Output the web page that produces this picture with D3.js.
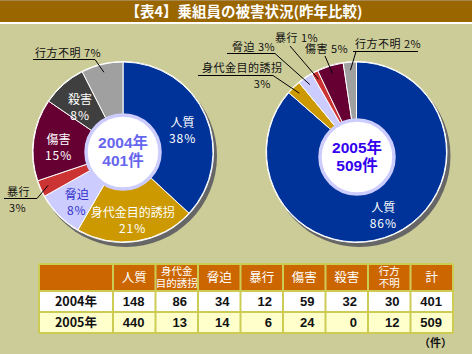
<!DOCTYPE html>
<html><head><meta charset="utf-8">
<script src="https://cdn.jsdelivr.net/npm/d3@7/dist/d3.min.js"></script>
<style>
html,body{margin:0;padding:0;background:#CCCC99;}
svg{display:block;font-family:"Noto Sans CJK JP","Noto Sans",sans-serif;}
</style></head><body>
<svg id="c" width="472" height="354"></svg>
<script>
// ---- data ----
const categories = ["人質","身代金目的誘拐","脅迫","暴行","傷害","殺害","行方不明"];
const values2004 = [148, 86, 34, 12, 59, 32, 30];
const values2005 = [440, 13, 14, 6, 24, 0, 12];
const pct2004 = [38, 21, 8, 3, 15, 8, 7];
const pct2005 = [86, 3, 3, 1, 5, 0, 2];
const years = ["2004年","2005年"];
const totals = [401, 509];
const tableHeaders = [["人質"],["身代金","目的誘拐"],["脅迫"],["暴行"],["傷害"],["殺害"],["行方","不明"],["計"]];
const colors = ["#003399","#CC9900","#CCCCFF","#CC3333","#660033","#3F3F3F","#A0A0A0"];

const LAT = "'Liberation Sans','Noto Sans CJK JP',sans-serif";
const svg = d3.select("#c");
svg.append("rect").attr("width",472).attr("height",354).attr("fill","#CCCC99");
// title bar
svg.append("rect").attr("x",0).attr("y",0).attr("width",472).attr("height",22).attr("fill","#996600");
svg.append("rect").attr("x",0).attr("y",0).attr("width",472).attr("height",1).attr("fill","#A8884E");
svg.append("rect").attr("x",0).attr("y",22).attr("width",472).attr("height",2).attr("fill","#FFFFFF");
svg.append("text").attr("x",244).attr("y",17).attr("text-anchor","middle")
  .attr("fill","#fff").attr("font-size",14.5).attr("font-weight","bold")
  .text("【表4】乗組員の被害状況(昨年比較)");

const R = 90;
const pie = d3.pie().sort(null).value(d=>d);
const arc = d3.arc().innerRadius(0).outerRadius(R);
const labelArc = d3.arc().innerRadius(65).outerRadius(65);
const leaderArc = d3.arc().innerRadius(82).outerRadius(82);

const pies = [
  {cx:123, cy:152, vals:values2004, pct:pct2004, inner:[0,0], centerColor:"#6666EE",
   inside:[0,1,2,4,5], insideColor:[ "#fff","#fff","#3333CC","#fff","#fff","#fff","#fff"],
   outside:[
     {i:6, lines:[{t:"行方不明 7%",x:35,y:57,a:"start"}], ul:[33,95,59.5], from:[95,59.5]},
     {i:3, lines:[{t:"暴行",x:7,y:196,a:"start"},{t:"3%",x:9,y:212,a:"start"}], ul:[4,37,198.5], from:[37,198.5]}
   ]},
  {cx:356.5, cy:152, vals:values2005, pct:pct2005, inner:[0.5,5], centerColor:"#3300EE",
   inside:[0], insideColor:["#fff"],
   outside:[
     {i:1, lines:[{t:"身代金目的誘拐",x:202,y:72,a:"start"},{t:"3%",x:271,y:88,a:"end"}], ul:[198,273,75.5], from:[273,75.5]},
     {i:2, lines:[{t:"脅迫 3%",x:232,y:51,a:"start"}], ul:[227,275,53.5], from:[275,53.5]},
     {i:3, lines:[{t:"暴行 1%",x:275,y:42,a:"start"}], ul:null, from:[290,46]},
     {i:4, lines:[{t:"傷害 5%",x:305,y:53,a:"start"}], ul:null, from:[325,56]},
     {i:6, lines:[{t:"行方不明 2%",x:355,y:48,a:"start"}], ul:[353,418,51.5], from:[356,51.5]}
   ]}
];

pies.forEach((p,pi)=>{
  const arcs = pie(p.vals);
  const g = svg.append("g").attr("transform",`translate(${p.cx},${p.cy})`);
  g.append("circle").attr("cx",3).attr("cy",4).attr("r",R+1).attr("fill","#666666");
  g.append("circle").attr("r",R+1).attr("fill","#fff");
  g.selectAll("path.s").data(arcs.filter(a=>a.data>0)).enter().append("path")
    .attr("d",arc).attr("fill",(d)=>colors[d.index]).attr("stroke","#fff").attr("stroke-width",1);
  g.append("circle").attr("cx",p.inner[0]).attr("cy",p.inner[1]).attr("r",37)
    .attr("fill","#fff").attr("stroke","#CCCCFF").attr("stroke-width",3.5);
  g.append("text").attr("x",p.inner[0]).attr("y",p.inner[1]-4).attr("text-anchor","middle")
    .attr("font-family",LAT).attr("font-size",15.5).attr("font-weight","bold").attr("fill",p.centerColor).text(years[pi]);
  g.append("text").attr("x",p.inner[0]).attr("y",p.inner[1]+14).attr("text-anchor","middle")
    .attr("font-family",LAT).attr("font-size",15.5).attr("font-weight","bold").attr("fill",p.centerColor).text(totals[pi]+"件");
  p.inside.forEach(i=>{
    const c = labelArc.centroid(arcs[i]);
    const col = p.insideColor[i];
    g.append("text").attr("x",c[0]).attr("y",c[1]+1).attr("text-anchor","middle")
      .attr("font-size",12).attr("fill",col).text(categories[i]);
    g.append("text").attr("x",c[0]).attr("y",c[1]+17).attr("text-anchor","middle")
      .attr("font-size",12).attr("fill",col).attr("letter-spacing",1).text(p.pct[i]+"%");
  });
  p.outside.forEach(o=>{
    const c = leaderArc.centroid(arcs[o.i]);
    o.lines.forEach(l=>{
      svg.append("text").attr("x",l.x).attr("y",l.y).attr("text-anchor",l.a)
        .attr("font-size",11).attr("fill","#111").attr("letter-spacing",0.5).text(l.t);
    });
    if(o.ul) svg.append("line").attr("x1",o.ul[0]).attr("x2",o.ul[1]).attr("y1",o.ul[2]).attr("y2",o.ul[2])
      .attr("stroke","#000").attr("stroke-width",1);
    svg.append("line").attr("x1",o.from[0]).attr("y1",o.from[1])
      .attr("x2",p.cx+c[0]).attr("y2",p.cy+c[1]).attr("stroke","#000").attr("stroke-width",1);
  });
});

// ---- table ----
const tx0 = 39, tx1 = 453, firstW = 74;
const colX = d3.scaleLinear().domain([0,8]).range([tx0+firstW, tx1]);
const rowY = [264, 291, 312, 333];
const t = svg.append("g");
t.append("rect").attr("x",tx0).attr("y",rowY[0]).attr("width",tx1-tx0).attr("height",rowY[1]-rowY[0]).attr("fill","#CC6600");
t.append("rect").attr("x",tx0).attr("y",rowY[1]).attr("width",tx1-tx0).attr("height",rowY[2]-rowY[1]).attr("fill","#FFFFFF");
t.append("rect").attr("x",tx0).attr("y",rowY[2]).attr("width",tx1-tx0).attr("height",rowY[3]-rowY[2]).attr("fill","#FFFFCC");
tableHeaders.forEach((h,i)=>{
  const cx = (colX(i)+colX(i+1))/2;
  if(h.length===1){
    t.append("text").attr("x",cx).attr("y",282).attr("text-anchor","middle")
      .attr("font-size",12.5).attr("fill","#fff").text(h[0]);
  } else {
    h.forEach((s,k)=>{
      t.append("text").attr("x",cx).attr("y",274.5+k*12.5).attr("text-anchor","middle")
        .attr("font-family",LAT).attr("font-size",10.5).attr("fill","#fff").text(s);
    });
  }
});
const rows = [values2004.concat([totals[0]]), values2005.concat([totals[1]])];
rows.forEach((r,ri)=>{
  const y = (rowY[ri+1]+rowY[ri+2])/2 + 4.5;
  t.append("text").attr("x",tx0+firstW/2).attr("y",y).attr("text-anchor","middle")
    .attr("font-size",12.5).attr("font-weight","bold").attr("fill","#111").text(years[ri]);
  r.forEach((v,i)=>{
    t.append("text").attr("x",colX(i+1)-11).attr("y",y).attr("text-anchor","end")
      .attr("font-family","'Liberation Sans',Arial,sans-serif")
      .attr("font-size",13).attr("font-weight","bold").attr("fill","#111").text(v);
  });
});
const bc = "#CCCC55";
rowY.forEach(y=>t.append("line").attr("x1",tx0).attr("x2",tx1).attr("y1",y).attr("y2",y).attr("stroke",bc).attr("stroke-width",2));
[tx0].concat(d3.range(0,9).map(colX)).forEach(x=>t.append("line").attr("x1",x).attr("x2",x).attr("y1",rowY[0]).attr("y2",rowY[3]).attr("stroke",bc).attr("stroke-width",2));
t.append("text").attr("x",452).attr("y",347).attr("text-anchor","end").attr("font-size",11)
  .attr("font-weight","bold").attr("fill","#111").text("（件）");
</script>
</body></html>
